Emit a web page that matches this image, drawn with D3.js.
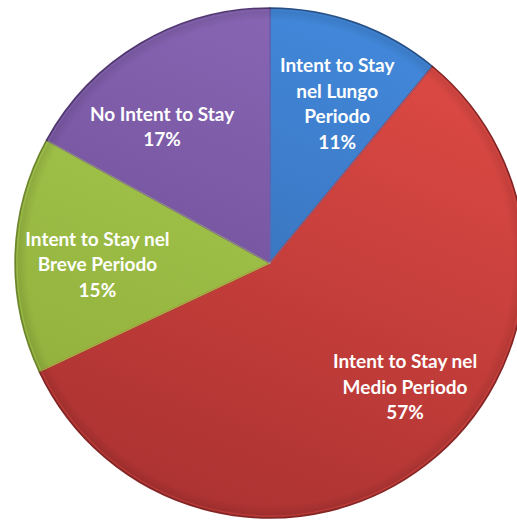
<!DOCTYPE html>
<html>
<head>
<meta charset="utf-8">
<script src="https://cdn.jsdelivr.net/npm/d3@7"></script>
<style>
  html, body { margin: 0; padding: 0; background: #ffffff; }
  svg { display: block; }
</style>
</head>
<body>
<svg id="chart" width="517" height="521"></svg>
<script>
// Slice categories (clockwise from 12 o'clock), their shares and label lines
const categories = [
  "Intent to Stay nel Lungo Periodo",
  "Intent to Stay nel Medio Periodo",
  "Intent to Stay nel Breve Periodo",
  "No Intent to Stay"
];
const values = [11, 57, 15, 17];
const labelLines = [
  ["Intent to Stay", "nel Lungo", "Periodo"],
  ["Intent to Stay nel", "Medio Periodo"],
  ["Intent to Stay nel", "Breve Periodo"],
  ["No Intent to Stay"]
];
// light / dark tones for each slice's shading
const lightColors = ["#4289dc", "#e04b45", "#a9cc52", "#8a68b6"];
const darkColors  = ["#3567ab", "#ab3231", "#8fae3a", "#694891"];

// layout settings
const width = 517, height = 521;
const cx = 270, cy = 263, R = 255;
const labelRadius = R * 0.685;
// best-fit shift of each label block away from its centroid
const labelShift = [[8, 5], [28, -14], [2, 7], [-19, 14]];

const svg = d3.select("#chart");
const defs = svg.append("defs");

categories.forEach((c, i) => {
  const g = defs.append("linearGradient")
    .attr("id", "grad" + i)
    .attr("gradientUnits", "userSpaceOnUse")
    .attr("x1", R * 0.5).attr("y1", -R)
    .attr("x2", -R * 0.3).attr("y2", R);
  g.append("stop").attr("offset", "0%").attr("stop-color", lightColors[i]);
  g.append("stop").attr("offset", "100%").attr("stop-color", darkColors[i]);
});

// soft rim darkening toward the outer edge
const rim = defs.append("radialGradient")
  .attr("id", "rim")
  .attr("gradientUnits", "userSpaceOnUse")
  .attr("cx", 0).attr("cy", 0).attr("r", R);
rim.append("stop").attr("offset", "0%").attr("stop-color", "#000").attr("stop-opacity", 0);
rim.append("stop").attr("offset", "95%").attr("stop-color", "#000").attr("stop-opacity", 0);
rim.append("stop").attr("offset", "100%").attr("stop-color", "#000").attr("stop-opacity", 0.12);

const pie = d3.pie().sort(null).value(d => d.value);
const data = categories.map((c, i) => ({ name: c, value: values[i], lines: labelLines[i], i }));
const arcs = pie(data);

const arc = d3.arc().innerRadius(0).outerRadius(R);
const labelArc = d3.arc().innerRadius(labelRadius).outerRadius(labelRadius);

const g = svg.append("g").attr("transform", `translate(${cx},${cy})`);

g.selectAll("path.slice")
  .data(arcs)
  .join("path")
  .attr("class", "slice")
  .attr("d", arc)
  .attr("fill", d => `url(#grad${d.data.i})`)
  .attr("stroke", d => d3.color(darkColors[d.data.i]).darker(0.6))
  .attr("stroke-width", 1.5)
  .attr("stroke-linejoin", "round");

// inner bevel highlight along each slice
g.selectAll("path.bevel")
  .data(arcs)
  .join("path")
  .attr("class", "bevel")
  .attr("d", d3.arc().innerRadius(0).outerRadius(R - 2))
  .attr("fill", "none")
  .attr("stroke", d => d3.color(lightColors[d.data.i]).brighter(0.4))
  .attr("stroke-opacity", 0.45)
  .attr("stroke-width", 1.2);

g.append("circle").attr("r", R).attr("fill", "url(#rim)");

// data labels
const fontSize = 19, lineH = 25.5;
const labels = g.selectAll("text.lbl")
  .data(arcs)
  .join("text")
  .attr("class", "lbl")
  .attr("transform", d => {
    const [x, y] = labelArc.centroid(d);
    const [sx, sy] = labelShift[d.data.i];
    return `translate(${x + sx},${y + sy})`;
  })
  .attr("text-anchor", "middle")
  .attr("font-family", "Lato, 'Open Sans', sans-serif")
  .attr("font-weight", "bold")
  .attr("font-size", fontSize)
  .attr("fill", "#ffffff");

labels.each(function(d) {
  const lines = d.data.lines.concat([d.data.value + "%"]);
  const n = lines.length;
  const t = d3.select(this);
  lines.forEach((ln, k) => {
    t.append("tspan")
      .attr("x", 0)
      .attr("y", (k - (n - 1) / 2) * lineH)
      .attr("dy", "0.35em")
      .text(ln);
  });
});
</script>
</body>
</html>
